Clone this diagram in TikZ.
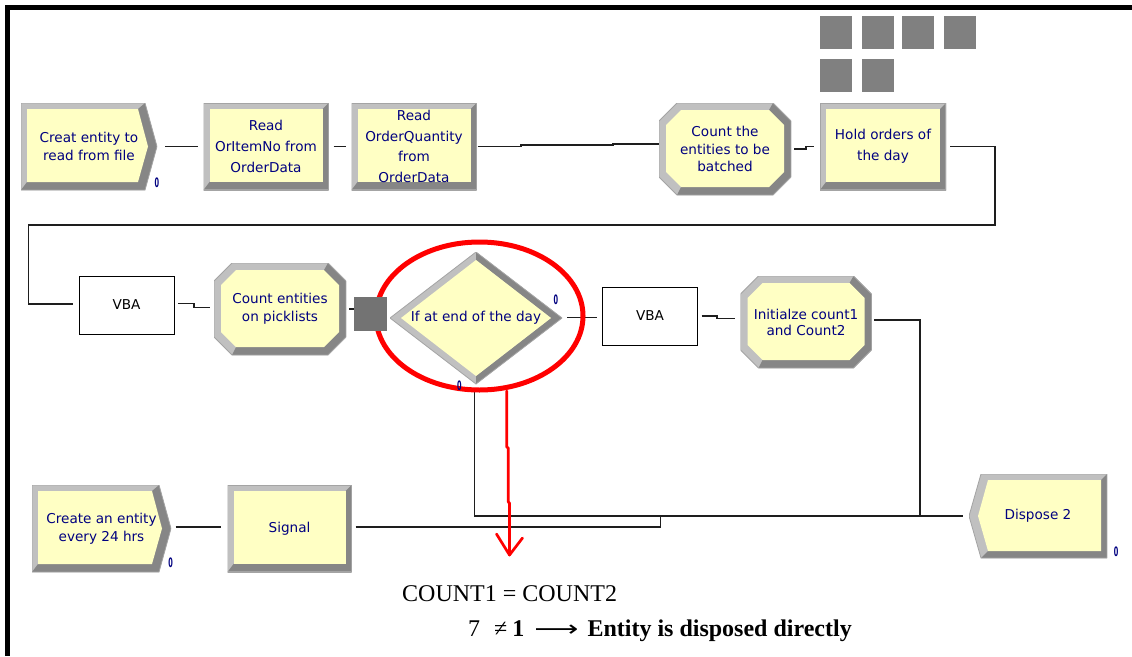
\documentclass[tikz,border=0pt]{standalone}
\usepackage{fontspec}
\usepackage{graphicx}
\setmainfont{Liberation Serif}
\newfontfamily\modfam{DejaVu Sans}
\usetikzlibrary{calc}

\definecolor{bvLight}{HTML}{C0C0C0}
\definecolor{bvDark}{HTML}{868686}
\definecolor{bvEdge}{HTML}{A4A4A4}
\definecolor{modYellow}{HTML}{FFFFC4}
\definecolor{navyTxt}{HTML}{000080}
\definecolor{queueGray}{HTML}{808080}
\definecolor{holdSq}{HTML}{737373}
\definecolor{lineBlk}{HTML}{1E1E1E}
\definecolor{markRed}{HTML}{FF0000}

% corners of the current path picture, in pt
\newdimen\bvd
\newcommand\bvbox{%
  \pgfextractx{\bvd}{\pgfpointanchor{path picture bounding box}{south west}}\edef\bvxa{\the\bvd}%
  \pgfextracty{\bvd}{\pgfpointanchor{path picture bounding box}{south west}}\edef\bvya{\the\bvd}%
  \pgfextractx{\bvd}{\pgfpointanchor{path picture bounding box}{north east}}\edef\bvxb{\the\bvd}%
  \pgfextracty{\bvd}{\pgfpointanchor{path picture bounding box}{north east}}\edef\bvyb{\the\bvd}%
  \pgfmathsetlengthmacro\bvxm{(\bvxa+\bvxb)/2}%
  \pgfmathsetlengthmacro\bvym{(\bvya+\bvyb)/2}%
}

% bevelled process block
\newcommand\modrect{%
  \bvbox
  \fill[bvLight] (\bvxa,\bvya) rectangle (\bvxb,\bvyb);
  \fill[bvDark] (\bvxa,\bvya) -- (\bvxb,\bvya) -- (\bvxb,\bvyb) -- (\bvxb-6pt,\bvyb-6pt) -- (\bvxm,\bvym) -- (\bvxa+6pt,\bvya+8pt) -- cycle;
  \fill[modYellow] (\bvxa+6pt,\bvya+8pt) rectangle (\bvxb-6pt,\bvyb-6pt);
  \draw[bvEdge,line width=1.2pt] (\bvxa,\bvya) rectangle (\bvxb,\bvyb);
}

% bevelled octagon (assign / record blocks)
\newcommand\modocta{%
  \bvbox
  \def\octouter{(\bvxa,\bvya+18pt) -- (\bvxa+18pt,\bvya) -- (\bvxb-18pt,\bvya) -- (\bvxb,\bvya+18pt) -- (\bvxb,\bvyb-18pt) -- (\bvxb-18pt,\bvyb) -- (\bvxa+18pt,\bvyb) -- (\bvxa,\bvyb-18pt) -- cycle}%
  \fill[bvLight] \octouter;
  \fill[bvDark] (\bvxa+18pt,\bvya) -- (\bvxb-18pt,\bvya) -- (\bvxb,\bvya+18pt) -- (\bvxb,\bvyb-18pt) -- (\bvxb-18pt,\bvyb) -- (\bvxb-22pt,\bvyb-7pt) -- (\bvxm,\bvym) -- (\bvxa+22pt,\bvya+8pt) -- cycle;
  \fill[modYellow] (\bvxa+7pt,\bvya+23pt) -- (\bvxa+22pt,\bvya+8pt) -- (\bvxb-22pt,\bvya+8pt) -- (\bvxb-7pt,\bvya+23pt) -- (\bvxb-7pt,\bvyb-22pt) -- (\bvxb-22pt,\bvyb-7pt) -- (\bvxa+22pt,\bvyb-7pt) -- (\bvxa+7pt,\bvyb-22pt) -- cycle;
  \draw[bvEdge,line width=0.8pt] \octouter;
}

% bevelled create block, pointing right
\newcommand\modcreate{%
  \bvbox
  \def\crouter{(\bvxa,\bvya) -- (\bvxb-12pt,\bvya) -- (\bvxb,\bvym) -- (\bvxb-12pt,\bvyb) -- (\bvxa,\bvyb) -- cycle}%
  \fill[bvLight] \crouter;
  \fill[bvDark] (\bvxa,\bvya) -- (\bvxb-12pt,\bvya) -- (\bvxb,\bvym) -- (\bvxb-12pt,\bvyb) -- (\bvxb-19pt,\bvyb-6pt) -- (\bvxm,\bvym) -- (\bvxa+6pt,\bvya+8pt) -- cycle;
  \fill[modYellow] (\bvxa+6pt,\bvya+8pt) -- (\bvxb-19pt,\bvya+8pt) -- (\bvxb-9pt,\bvym) -- (\bvxb-19pt,\bvyb-6pt) -- (\bvxa+6pt,\bvyb-6pt) -- cycle;
  \draw[bvEdge,line width=0.8pt] \crouter;
}

% bevelled dispose block, pointing left
\newcommand\moddispose{%
  \bvbox
  \def\dpouter{(\bvxa+12pt,\bvya) -- (\bvxb,\bvya) -- (\bvxb,\bvyb) -- (\bvxa+12pt,\bvyb) -- (\bvxa,\bvym) -- cycle}%
  \fill[bvLight] \dpouter;
  \fill[bvDark] (\bvxa+12pt,\bvya) -- (\bvxb,\bvya) -- (\bvxb,\bvyb) -- (\bvxb-6pt,\bvyb-6pt) -- (\bvxm,\bvym) -- (\bvxa+19pt,\bvya+7pt) -- cycle;
  \fill[modYellow] (\bvxa+9pt,\bvym) -- (\bvxa+19pt,\bvyb-6pt) -- (\bvxb-6pt,\bvyb-6pt) -- (\bvxb-6pt,\bvya+7pt) -- (\bvxa+19pt,\bvya+7pt) -- cycle;
  \draw[bvEdge,line width=0.8pt] \dpouter;
}

% bevelled decision diamond
\newcommand\moddiamond{%
  \bvbox
  \def\dmouter{(\bvxa,\bvym) -- (\bvxm,\bvyb) -- (\bvxb,\bvym) -- (\bvxm,\bvya) -- cycle}%
  \fill[bvLight] \dmouter;
  \fill[bvDark] (\bvxm,\bvyb) -- (\bvxb,\bvym) -- (\bvxm,\bvya) -- (\bvxm,\bvya+8pt) -- (\bvxb-11pt,\bvym) -- (\bvxm,\bvyb-8pt) -- cycle;
  \fill[modYellow] (\bvxa+11pt,\bvym) -- (\bvxm,\bvyb-8pt) -- (\bvxb-11pt,\bvym) -- (\bvxm,\bvya+8pt) -- cycle;
  \draw[bvEdge,line width=0.8pt] \dmouter;
}

\tikzset{
  modtext/.style={inner sep=0pt, align=center, text=navyTxt,
    font=\modfam\fontsize{13.6}{18}\selectfont},
  procbox/.style={rectangle, modtext, path picture={\modrect}},
  octbox/.style={rectangle, modtext, path picture={\modocta}},
  createbox/.style={rectangle, modtext, path picture={\modcreate}},
  disposebox/.style={rectangle, modtext, path picture={\moddispose}},
  decidebox/.style={rectangle, modtext, path picture={\moddiamond}},
  vbabox/.style={rectangle, draw=black, line width=1pt, fill=white, inner sep=0pt,
    font=\modfam\fontsize{13.6}{18}\selectfont},
  queuesq/.style={rectangle, fill=queueGray, minimum width=32pt, minimum height=33pt, inner sep=0pt},
  holdsq/.style={rectangle, fill=holdSq, minimum width=33pt, minimum height=34pt, inner sep=0pt},
  counter/.style={inner sep=0pt, text=navyTxt, font=\modfam\bfseries\fontsize{13}{13}\selectfont},
  conn/.style={draw=lineBlk, line width=1.3pt},
  redline/.style={draw=markRed, line width=2.7pt, line cap=round, line join=round},
  note/.style={inner sep=0pt, anchor=base west, font=\fontsize{24}{26}\selectfont}
}

\begin{document}
\begin{tikzpicture}[x=1pt, y=-1pt]
\useasboundingbox (0,0) rectangle (1132,656);
\fill[white] (0,0) rectangle (1132,656);
% window frame, top and left
\fill[black] (5,5) rectangle (1132,10);
\fill[black] (5,5) rectangle (10,656);

% entities waiting in the hold queue
\node[queuesq] (q1) at (836,32.5) {};
\node[queuesq] (q2) at (877.5,32.5) {};
\node[queuesq] (q3) at (918,32.5) {};
\node[queuesq] (q4) at (959.5,32.5) {};
\node[queuesq] (q5) at (836,75.5) {};
\node[queuesq] (q6) at (877.5,75.5) {};

% first row of blocks
\node[createbox, minimum width=136pt, minimum height=87pt] (c1) at (89,146.5) {Creat entity to\\read from file};
\node[procbox, minimum width=125pt, minimum height=87pt] (r1) at (266,146.5) {Read\\[3pt]OrItemNo from\\[3pt]OrderData};
\node[procbox, minimum width=125pt, minimum height=87pt] (r2) at (414,146.5) {Read\\[2.7pt]OrderQuantity\\[2.7pt]from\\[2.7pt]OrderData};
\node[octbox, minimum width=132pt, minimum height=92pt] (cb) at (725,149) {Count the\\[-0.5pt]entities to be\\[-0.5pt]batched};
\node[procbox, minimum width=126pt, minimum height=87pt] (ho) at (883,146.5) {Hold orders of\\[3pt]the day};

% second row
\node[vbabox, minimum width=95pt, minimum height=58pt] (v1) at (126.5,305) {VBA};
\node[octbox, minimum width=132pt, minimum height=92pt] (cp) at (280,309) {Count entities\\on picklists};
\node[decidebox, minimum width=172pt, minimum height=132pt] (dc) at (476,318) {If at end of the day};
\node[vbabox, minimum width=95pt, minimum height=58pt] (v2) at (650,316) {VBA};
\node[octbox, minimum width=131pt, minimum height=92pt] (in) at (806,322) {Initialze count1\\[-2pt]and Count2};

% third row
\node[createbox, minimum width=139pt, minimum height=87pt] (c2) at (101.5,528.5) {Create an entity\\every 24 hrs};
\node[procbox, minimum width=124pt, minimum height=87pt] (sg) at (289.5,528.5) {Signal};
\node[disposebox, minimum width=138pt, minimum height=84pt] (dp) at (1038,516) {Dispose 2};

% bend points of the connectors
\coordinate (w1) at (521,145);
\coordinate (w2) at (613,144);
\coordinate (w3) at (806,146.7);
\coordinate (bR) at (995,225);
\coordinate (bL) at (28.6,225);
\coordinate (w4) at (194,307.3);
\coordinate (w5) at (717,318.3);
\coordinate (J1) at (920,516);
\coordinate (J2) at (660.7,516);

% connectors
\draw[conn] ([xshift=8pt]c1.east) -- ([xshift=-5pt]r1.west);
\draw[conn] ([xshift=5pt]r1.east) -- ([xshift=-5pt]r2.west);
\draw[conn] ([xshift=1pt]r2.east) -| (w1) -| (w2) -- (w2 -| cb.west);
\draw[conn] ([xshift=3pt]cb.east) -| (w3) -- ([xshift=-6pt]ho.west |- w3);
\draw[conn] ([xshift=4pt]ho.east) -| (bR) -- (bL) |- ([xshift=-6pt,yshift=1pt]v1.west);
\draw[conn] ([xshift=3.5pt,yshift=1.5pt]v1.east) -| (w4) -- ([xshift=-4pt]cp.west |- w4);
\draw[conn] ([xshift=5pt,yshift=0.7pt]dc.east) -- ([xshift=-5pt,yshift=0.7pt]dc.east -| v2.west);
\draw[conn] ([xshift=3.5pt]v2.east) -| (w5) -- ([xshift=-5pt]in.west |- w5);
\draw[conn] ([xshift=2.5pt,yshift=2pt]in.east) -| (J1);
\draw[conn] ([xshift=-1.7pt,yshift=-8pt]dc.south) |- ([xshift=-6pt]dp.west);
\draw[conn] ([xshift=4pt,yshift=1.5pt]sg.east) -| (J2);
\draw[conn] ([xshift=4.5pt,yshift=1.5pt]c2.east) -- ([xshift=-6.5pt,yshift=1.5pt]sg.west);

% red mark around the decision
\draw[draw=markRed, line width=5pt] (479.5,316) ellipse [x radius=103.5, y radius=74];

% hold queue in front of the decision
\node[holdsq] (sq) at (370.5,313.7) {};
\draw[conn] ([xshift=3pt]cp.east) -- (cp.east -| sq.west);

% red arrow down to the note
\coordinate (redTop) at (506.7,391);
\coordinate (redTip) at (509.5,555);
\draw[redline] (redTop) -- (506.7,447) -- (508.3,448) -- (508.3,502) -- (509.5,503) -- (redTip);
\draw[redline] ([shift={(-13,-21)}]redTip) -- (redTip) -- ([shift={(13,-17)}]redTip);

% entity counters
\node[counter] (n1) at (157,182.7) {\scalebox{0.5}[1]{0}};
\node[counter] (n2) at (556,299.3) {\scalebox{0.5}[1]{0}};
\node[counter] (n3) at (459.3,386) {\scalebox{0.5}[1]{0}};
\node[counter] (n4) at (170.7,563) {\scalebox{0.5}[1]{0}};
\node[counter] (n5) at (1116,552) {\scalebox{0.5}[1]{0}};

% note
\node[note] (t1) at (402,601) {COUNT1 = COUNT2};
\node[note] (t2) at (468,636) {7\hspace{14pt}≠\hspace{5pt}\textbf{1}\hspace{10pt}{\modfam\fontsize{22}{24}\selectfont\scalebox{1.4}[1]{⟶}}\hspace{9pt}\textbf{Entity is disposed directly}};
\end{tikzpicture}
\end{document}
